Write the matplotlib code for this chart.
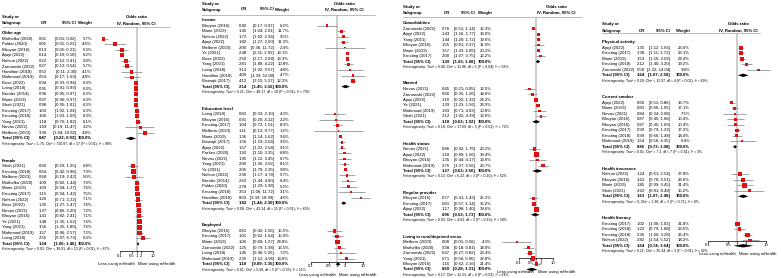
import matplotlib
matplotlib.use("Agg")
import matplotlib.pyplot as plt
import matplotlib.transforms as mtransforms
import numpy as np

plt.rcParams["font.family"] = ["Liberation Sans", "DejaVu Sans"]

W, H, DPI = 781, 278, 100

# rows: (study, OR, lower 95% CI, upper 95% CI, weight %)
OLDER_AGE = [
    ("Mathelka (2020)", 0.01, 0.01, 0.02, 5.7),
    ("Poldar (2020)", 0.05, 0.01, 0.22, 4.6),
    ("Bhuyan (2016)", 0.13, 0.05, 0.31, 5.3),
    ("Ajayi (2022)", 0.14, 0.10, 0.18, 6.2),
    ("Nelson (2022)", 0.22, 0.12, 0.41, 5.8),
    ("Żarnowski (2022)", 0.27, 0.13, 0.54, 5.7),
    ("Hamilton (2018)", 0.50, 0.11, 2.30, 4.1),
    ("Mahmood (2019)", 0.54, 0.17, 1.69, 4.8),
    ("Buss (2022)", 0.94, 0.93, 0.94, 6.3),
    ("Laing (2018)", 0.95, 0.91, 0.99, 6.3),
    ("Bender (2014)", 0.96, 0.95, 0.97, 6.3),
    ("Marie (2019)", 0.97, 0.96, 0.97, 6.3),
    ("Shah (2021)", 0.98, 0.95, 1.01, 6.3),
    ("Ernsting (2017)", 1.03, 1.02, 1.04, 6.3),
    ("Ernsting (2018)", 1.06, 1.03, 1.09, 6.3),
    ("Yang (2021)", 1.18, 0.76, 1.82, 6.1),
    ("Nevas (2021)", 1.69, 0.19, 11.47, 3.2),
    ("Melbern (2023)", 3.36, 1.04, 10.82, 4.8),
]
OLDER_AGE_TOTAL = (0.47, 0.22, 0.93)
OLDER_AGE_HET = "Heterogeneity: Tau² = 1.75; Chi² = 720.87, df = 17 (P < 0.01); I² = 98%"

FEMALE = [
    ("Shah (2021)", 0.60, 0.29, 1.25, 6.8),
    ("Ernsting (2018)", 0.64, 0.42, 0.98, 7.3),
    ("Melbern (2023)", 0.68, 0.19, 2.42, 5.0),
    ("Mathelka (2020)", 1.09, 0.82, 1.44, 7.6),
    ("Marie (2019)", 1.09, 0.94, 1.27, 7.6),
    ("Ernsting (2017)", 1.15, 0.94, 1.42, 7.5),
    ("Nelson (2022)", 1.26, 0.71, 2.22, 7.1),
    ("Buss (2022)", 1.35, 1.27, 1.47, 7.6),
    ("Nevas (2021)", 1.37, 0.86, 2.20, 7.2),
    ("Bhuyan (2016)", 1.41, 0.82, 2.41, 7.1),
    ("Ye (2021)", 1.48, 1.35, 1.62, 7.6),
    ("Yang (2021)", 1.56, 1.35, 1.80, 7.6),
    ("Mahmood (2019)", 1.57, 0.96, 2.57, 7.2),
    ("Laing (2018)", 2.55, 0.97, 6.73, 6.3),
]
FEMALE_TOTAL = (1.24, 1.06, 1.46)
FEMALE_HET = "Heterogeneity: Tau² = 0.03; Chi² = 38.91, df = 13 (P < 0.01); I² = 67%"

INCOME = [
    ("Bhuyan (2016)", 0.40, 0.17, 0.97, 6.2),
    ("Marie (2019)", 1.45, 1.04, 2.01, 11.7),
    ("Nelson (2022)", 1.72, 1.02, 2.94, 9.5),
    ("Ajayi (2022)", 1.82, 1.27, 2.60, 11.3),
    ("Melbern (2023)", 2.00, 0.36, 11.72, 2.4),
    ("Ye (2021)", 2.48, 2.11, 2.92, 13.1),
    ("Buss (2022)", 2.50, 2.17, 2.88, 13.3),
    ("Yang (2021)", 2.81, 1.88, 4.22, 10.8),
    ("Laing (2018)", 3.13, 1.02, 9.57, 4.8),
    ("Hamilton (2018)", 4.00, 1.39, 12.00, 4.7),
    ("Biswajit (2017)", 4.12, 3.15, 5.37, 12.3),
]
INCOME_TOTAL = (2.14, 1.45, 3.16)
INCOME_HET = "Heterogeneity: Tau² = 0.21; Chi² = 48.17, df = 10 (P < 0.01); I² = 79%"

EDUCATION = [
    ("Laing (2018)", 0.83, 0.33, 2.10, 4.3),
    ("Bhuyan (2016)", 0.91, 0.20, 4.12, 2.2),
    ("Ernsting (2017)", 1.04, 0.72, 1.51, 8.3),
    ("Melbern (2023)", 1.11, 0.13, 9.77, 1.2),
    ("Marie (2019)", 1.36, 1.14, 1.62, 9.6),
    ("Biswajit (2017)", 1.56, 1.19, 2.04, 9.6),
    ("Ajayi (2022)", 1.57, 1.22, 2.04, 9.1),
    ("Parkes (2020)", 1.92, 1.10, 3.35, 6.8),
    ("Nevas (2021)", 1.95, 1.12, 3.45, 6.7),
    ("Yang (2021)", 2.00, 1.36, 3.02, 8.1),
    ("Ye (2021)", 2.05, 1.78, 2.35, 9.8),
    ("Nelson (2022)", 2.36, 1.17, 4.78, 5.7),
    ("Bender (2014)", 2.62, 1.44, 4.80, 6.4),
    ("Poldar (2020)", 2.78, 1.29, 5.98, 5.2),
    ("Ernsting (2018)", 3.53, 1.06, 11.72, 3.1),
    ("Hamilton (2018)", 8.03, 3.39, 18.99, 4.6),
]
EDUCATION_TOTAL = (1.82, 1.44, 2.30)
EDUCATION_HET = "Heterogeneity: Tau² = 0.08; Chi² = 43.14, df = 15 (P < 0.01); I² = 65%"

EMPLOYED = [
    ("Bhuyan (2016)", 0.81, 0.42, 1.56, 15.5),
    ("Ernsting (2017)", 1.01, 0.62, 1.64, 15.0),
    ("Marie (2019)", 1.06, 0.89, 1.27, 24.8),
    ("Żarnowski (2022)", 1.25, 0.79, 1.98, 16.5),
    ("Laing (2018)", 1.45, 0.40, 5.26, 7.2),
    ("Mahmood (2019)", 2.35, 1.12, 4.96, 13.6),
]
EMPLOYED_TOTAL = (1.10, 0.89, 1.35)
EMPLOYED_HET = "Heterogeneity: Tau² = 0.01; Chi² = 5.58, df = 5 (P = 0.35); I² = 11%"

COMORBIDITIES = [
    ("Żarnowski (2022)", 0.76, 0.51, 1.14, 16.3),
    ("Ajayi (2022)", 1.43, 1.16, 1.77, 19.0),
    ("Yang (2021)", 1.44, 1.20, 1.72, 19.6),
    ("Bhuyan (2016)", 1.55, 0.81, 2.97, 11.9),
    ("Marie (2019)", 1.57, 1.33, 1.85, 20.1),
    ("Ernsting (2017)", 2.00, 1.07, 3.75, 12.2),
]
COMORBIDITIES_TOTAL = (1.39, 1.03, 1.88)
COMORBIDITIES_HET = "Heterogeneity: Tau² = 0.08; Chi² = 11.86, df = 5 (P = 0.04); I² = 58%"

MARRIED = [
    ("Nevas (2021)", 0.45, 0.21, 0.95, 12.5),
    ("Żarnowski (2022)", 0.66, 0.35, 1.26, 14.6),
    ("Ajayi (2022)", 1.10, 0.92, 1.32, 24.2),
    ("Ye (2021)", 1.39, 1.23, 1.56, 24.9),
    ("Mahmood (2019)", 1.69, 0.71, 4.03, 10.8),
    ("Shah (2021)", 2.12, 1.02, 4.39, 13.0),
]
MARRIED_TOTAL = (1.10, 0.63, 1.92)
MARRIED_HET = "Heterogeneity: Tau² = 0.18; Chi² = 17.69, df = 5 (P < 0.01); I² = 72%"

HEALTH_STATUS = [
    ("Nevas (2021)", 0.86, 0.42, 1.76, 23.2),
    ("Ajayi (2022)", 1.18, 0.89, 1.56, 39.4),
    ("Bhuyan (2016)", 1.35, 0.44, 4.17, 13.6),
    ("Mahmood (2019)", 2.76, 1.37, 5.56, 23.7),
]
HEALTH_STATUS_TOTAL = (1.27, 0.63, 2.56)
HEALTH_STATUS_HET = "Heterogeneity: Tau² = 0.13; Chi² = 6.22, df = 3 (P = 0.10); I² = 52%"

REGULAR_PROVIDER = [
    ("Bhuyan (2016)", 0.77, 0.41, 1.43, 25.1),
    ("Ernsting (2017)", 0.81, 0.57, 1.14, 35.2),
    ("Ajayi (2022)", 1.17, 0.98, 1.40, 39.6),
]
REGULAR_PROVIDER_TOTAL = (0.96, 0.53, 1.73)
REGULAR_PROVIDER_HET = "Heterogeneity: Tau² = 0.03; Chi² = 4.81, df = 2 (P = 0.10); I² = 58%"

RURAL = [
    ("Melbern (2023)", 0.08, 0.01, 0.56, 4.3),
    ("Mathelka (2020)", 0.38, 0.18, 0.81, 18.0),
    ("Żarnowski (2022)", 0.47, 0.27, 0.82, 23.4),
    ("Yang (2021)", 0.71, 0.56, 0.90, 32.8),
    ("Bhuyan (2016)", 1.16, 0.62, 2.16, 21.4),
]
RURAL_TOTAL = (0.60, 0.28, 1.31)
RURAL_HET = "Heterogeneity: Tau² = 0.17; Chi² = 11.23, df = 4 (P = 0.02); I² = 64%"

PHYSICAL_ACTIVITY = [
    ("Ajayi (2022)", 1.35, 1.12, 1.65, 23.6),
    ("Ernsting (2017)", 1.38, 1.11, 1.72, 23.1),
    ("Marie (2019)", 1.53, 1.16, 2.02, 24.4),
    ("Ernsting (2018)", 2.12, 1.40, 3.20, 19.2),
    ("Żarnowski (2022)", 5.58, 2.22, 14.04, 9.8),
]
PHYSICAL_ACTIVITY_TOTAL = (1.64, 1.07, 2.50)
PHYSICAL_ACTIVITY_HET = "Heterogeneity: Tau² = 0.20; Chi² = 12.97, df = 4 (P = 0.01); I² = 69%"

SMOKER = [
    ("Ajayi (2022)", 0.66, 0.51, 0.86, 16.7),
    ("Marie (2019)", 0.83, 0.66, 1.05, 17.1),
    ("Nevas (2021)", 0.84, 0.34, 2.08, 7.5),
    ("Bhuyan (2016)", 0.87, 0.45, 1.68, 10.4),
    ("Bhuyan (2016)", 0.87, 0.45, 1.69, 10.4),
    ("Ernsting (2017)", 0.99, 0.79, 1.22, 17.2),
    ("Ernsting (2018)", 0.99, 0.66, 1.48, 14.4),
    ("Mahmood (2019)", 1.54, 0.56, 4.35, 6.4),
]
SMOKER_TOTAL = (0.86, 0.73, 1.00)
SMOKER_HET = "Heterogeneity: Tau² = 0.01; Chi² = 7.3, df = 7 (P = 0.41); I² = 3%"

INSURANCE = [
    ("Nelson (2022)", 1.24, 0.61, 2.54, 27.8),
    ("Bhuyan (2016)", 1.62, 0.70, 3.51, 26.6),
    ("Marie (2019)", 1.85, 0.99, 3.45, 31.4),
    ("Shah (2021)", 2.62, 0.81, 8.48, 15.2),
]
INSURANCE_TOTAL = (1.63, 1.07, 2.48)
INSURANCE_HET = "Heterogeneity: Tau² = 0; Chi² = 1.38, df = 3 (P = 0.71); I² = 0%"

LITERACY = [
    ("Ernsting (2017)", 1.02, 1.00, 1.03, 31.8),
    ("Ernsting (2018)", 1.22, 0.79, 1.88, 23.6),
    ("Ernsting (2018)", 2.30, 1.60, 3.28, 26.4),
    ("Nelson (2022)", 2.82, 1.54, 5.52, 18.2),
]
LITERACY_TOTAL = (1.64, 0.74, 3.64)
LITERACY_HET = "Heterogeneity: Tau² = 0.21; Chi² = 35.34, df = 3 (P < 0.01); I² = 92%"

TICKS = [0.1, 0.5, 1, 2, 10]
TICK_LABELS = ["0.1", "0.5", "1", "2", "10"]

RED = "#e01010"
GREY = "#808080"
FS = 3.1
FS_HET = 2.55

# panel layout, all in pixels of the 781x278 picture
PANELS = [
    dict(groups=[("Older age", OLDER_AGE, OLDER_AGE_TOTAL, OLDER_AGE_HET),
                 ("Female", FEMALE, FEMALE_TOTAL, FEMALE_HET)],
         left=0, right=195, ref=136.5, dec=16.5, y0=33.0, dy=5.55,
         name=2, or_r=47, ci_r=76, w_r=92, head_c=136.5, rule_end=170,
         head=(17, 23), rule=27, axis=251),
    dict(groups=[("Income", INCOME, INCOME_TOTAL, INCOME_HET),
                 ("Education level", EDUCATION, EDUCATION_TOTAL, EDUCATION_HET),
                 ("Employed", EMPLOYED, EMPLOYED_TOTAL, EMPLOYED_HET)],
         left=195, right=390, ref=337, dec=26, y0=20.0, dy=5.55,
         name=202, or_r=246.7, ci_r=274, w_r=289, head_c=344, rule_end=375,
         head=(4, 9.5), rule=15, axis=261.5),
    dict(groups=[("Comorbidities", COMORBIDITIES, COMORBIDITIES_TOTAL, COMORBIDITIES_HET),
                 ("Married", MARRIED, MARRIED_TOTAL, MARRIED_HET),
                 ("Health status", HEALTH_STATUS, HEALTH_STATUS_TOTAL, HEALTH_STATUS_HET),
                 ("Regular provider", REGULAR_PROVIDER, REGULAR_PROVIDER_TOTAL, REGULAR_PROVIDER_HET),
                 ("Living in rural/deprived areas", RURAL, RURAL_TOTAL, RURAL_HET)],
         left=390, right=585, ref=535.5, dec=17, y0=23.3, dy=5.47,
         name=402.7, or_r=450, ci_r=475, w_r=491.7, head_c=556.7, rule_end=582,
         head=(6.7, 12.7), rule=17.3, axis=258),
    dict(groups=[("Physical activity", PHYSICAL_ACTIVITY, PHYSICAL_ACTIVITY_TOTAL, PHYSICAL_ACTIVITY_HET),
                 ("Current smoker", SMOKER, SMOKER_TOTAL, SMOKER_HET),
                 ("Health insurance", INSURANCE, INSURANCE_TOTAL, INSURANCE_HET),
                 ("Health literacy", LITERACY, LITERACY_TOTAL, LITERACY_HET)],
         left=585, right=781, ref=737, dec=29, y0=42.3, dy=5.5,
         name=601.7, or_r=645, ci_r=670, w_r=690, head_c=738, rule_end=760,
         head=(24.3, 30.7), rule=33.3, axis=240.5),
]


def draw_panel(fig, p):
    """Vienas forest plot skydelis: lentele kaireje, OR skale desineje."""
    ax = fig.add_axes([p["left"] / W, 0, (p["right"] - p["left"]) / W, 1])
    ax.set_facecolor("none")
    ax.set_xscale("log")
    ax.set_xlim(10 ** ((p["left"] - p["ref"]) / p["dec"]),
                10 ** ((p["right"] - p["ref"]) / p["dec"]))
    ax.set_ylim(H, 0)
    for side in ("left", "right", "top"):
        ax.spines[side].set_visible(False)
    ax.tick_params(axis="y", left=False, labelleft=False)

    tr = mtransforms.blended_transform_factory(fig.transFigure, ax.transData)

    def txt(px, y, s, size=FS, **kw):
        ax.text(px / W, y, s, transform=tr, va="center", fontsize=size, **kw)

    # header
    h1, h2 = p["head"]
    txt(p["name"], h1, "Study or", fontweight="bold")
    txt(p["name"], h2, "Subgroup", fontweight="bold")
    txt(p["or_r"], h2, "OR", ha="right", fontweight="bold")
    txt(p["ci_r"], h2, "95% CI", ha="right", fontweight="bold")
    txt(p["w_r"], h2, "Weight", ha="right", fontweight="bold")
    txt(p["head_c"], h1, "Odds ratio", ha="center", fontweight="bold")
    txt(p["head_c"], h2, "IV, Random, 95% CI", ha="center", fontweight="bold")
    ax.plot([p["name"] / W, p["rule_end"] / W], [p["rule"], p["rule"]],
            transform=tr, color="#a0a0a0", lw=0.5, clip_on=False)

    wmax = max(r[4] for g in p["groups"] for r in g[1])
    ax.vlines(1, p["rule"], p["axis"], color="#cfcfcf", lw=1.5, zorder=0)

    row = 0
    for title, rows, total, het in p["groups"]:
        txt(p["name"], p["y0"] + p["dy"] * row, title, fontweight="bold")
        row += 1
        ys = p["y0"] + p["dy"] * np.arange(row, row + len(rows))
        names = [r[0] for r in rows]
        ors = np.array([r[1] for r in rows])
        lo = np.array([r[2] for r in rows])
        hi = np.array([r[3] for r in rows])
        wts = np.array([r[4] for r in rows])
        for y, n, o, l, h, w in zip(ys, names, ors, lo, hi, wts):
            txt(p["name"], y, n)
            txt(p["or_r"], y, f"{o:.2f}", ha="right")
            txt(p["ci_r"], y, f"[{l:.2f}; {h:.2f}]", ha="right")
            txt(p["w_r"], y, f"{w:.1f}%", ha="right")
        ax.hlines(ys, lo, hi, color=GREY, lw=0.5, zorder=2)
        side_px = np.maximum(4.6 * np.sqrt(wts / wmax), 1.3)
        ax.scatter(ors, ys, s=(side_px * 72 / DPI) ** 2, marker="s",
                   color=RED, linewidths=0, zorder=3)
        row += len(rows)

        yt = p["y0"] + p["dy"] * row
        est, tlo, thi = total
        txt(p["name"], yt, "Total (95% CI)", fontweight="bold")
        txt(p["or_r"], yt, f"{est:.2f}", ha="right", fontweight="bold")
        txt(p["ci_r"], yt, f"[{tlo:.2f}; {thi:.2f}]", ha="right", fontweight="bold")
        txt(p["w_r"], yt, "100.0%", ha="right", fontweight="bold")
        dh = 1.7
        ax.fill([tlo, est, thi, est], [yt, yt - dh, yt, yt + dh],
                color="black", lw=0, zorder=3)
        row += 1
        txt(p["name"], p["y0"] + p["dy"] * row, het, size=FS_HET)
        row += 3

    # bottom axis
    ax.spines["bottom"].set_position(("data", p["axis"]))
    ax.spines["bottom"].set_bounds(TICKS[0], TICKS[-1])
    ax.spines["bottom"].set_linewidth(0.5)
    ax.set_xticks(TICKS)
    ax.set_xticklabels(TICK_LABELS)
    ax.xaxis.set_minor_locator(matplotlib.ticker.NullLocator())
    ax.tick_params(axis="x", length=1.5, width=0.5, pad=0.4, labelsize=FS)
    less = mtransforms.offset_copy(ax.transData, fig=fig, x=-1.5, y=0, units="dots")
    more = mtransforms.offset_copy(ax.transData, fig=fig, x=2.0, y=0, units="dots")
    ax.text(1, p["axis"] + 13.5, "Less using mHealth", transform=less,
            ha="right", va="center", fontsize=FS)
    ax.text(1, p["axis"] + 13.5, "More using mHealth", transform=more,
            ha="left", va="center", fontsize=FS)


def main():
    fig = plt.figure(figsize=(W / DPI, H / DPI), dpi=DPI)
    fig.patch.set_facecolor("white")
    for p in PANELS:
        draw_panel(fig, p)
    fig.savefig("out.png", dpi=DPI)
    plt.close(fig)


if __name__ == "__main__":
    main()
